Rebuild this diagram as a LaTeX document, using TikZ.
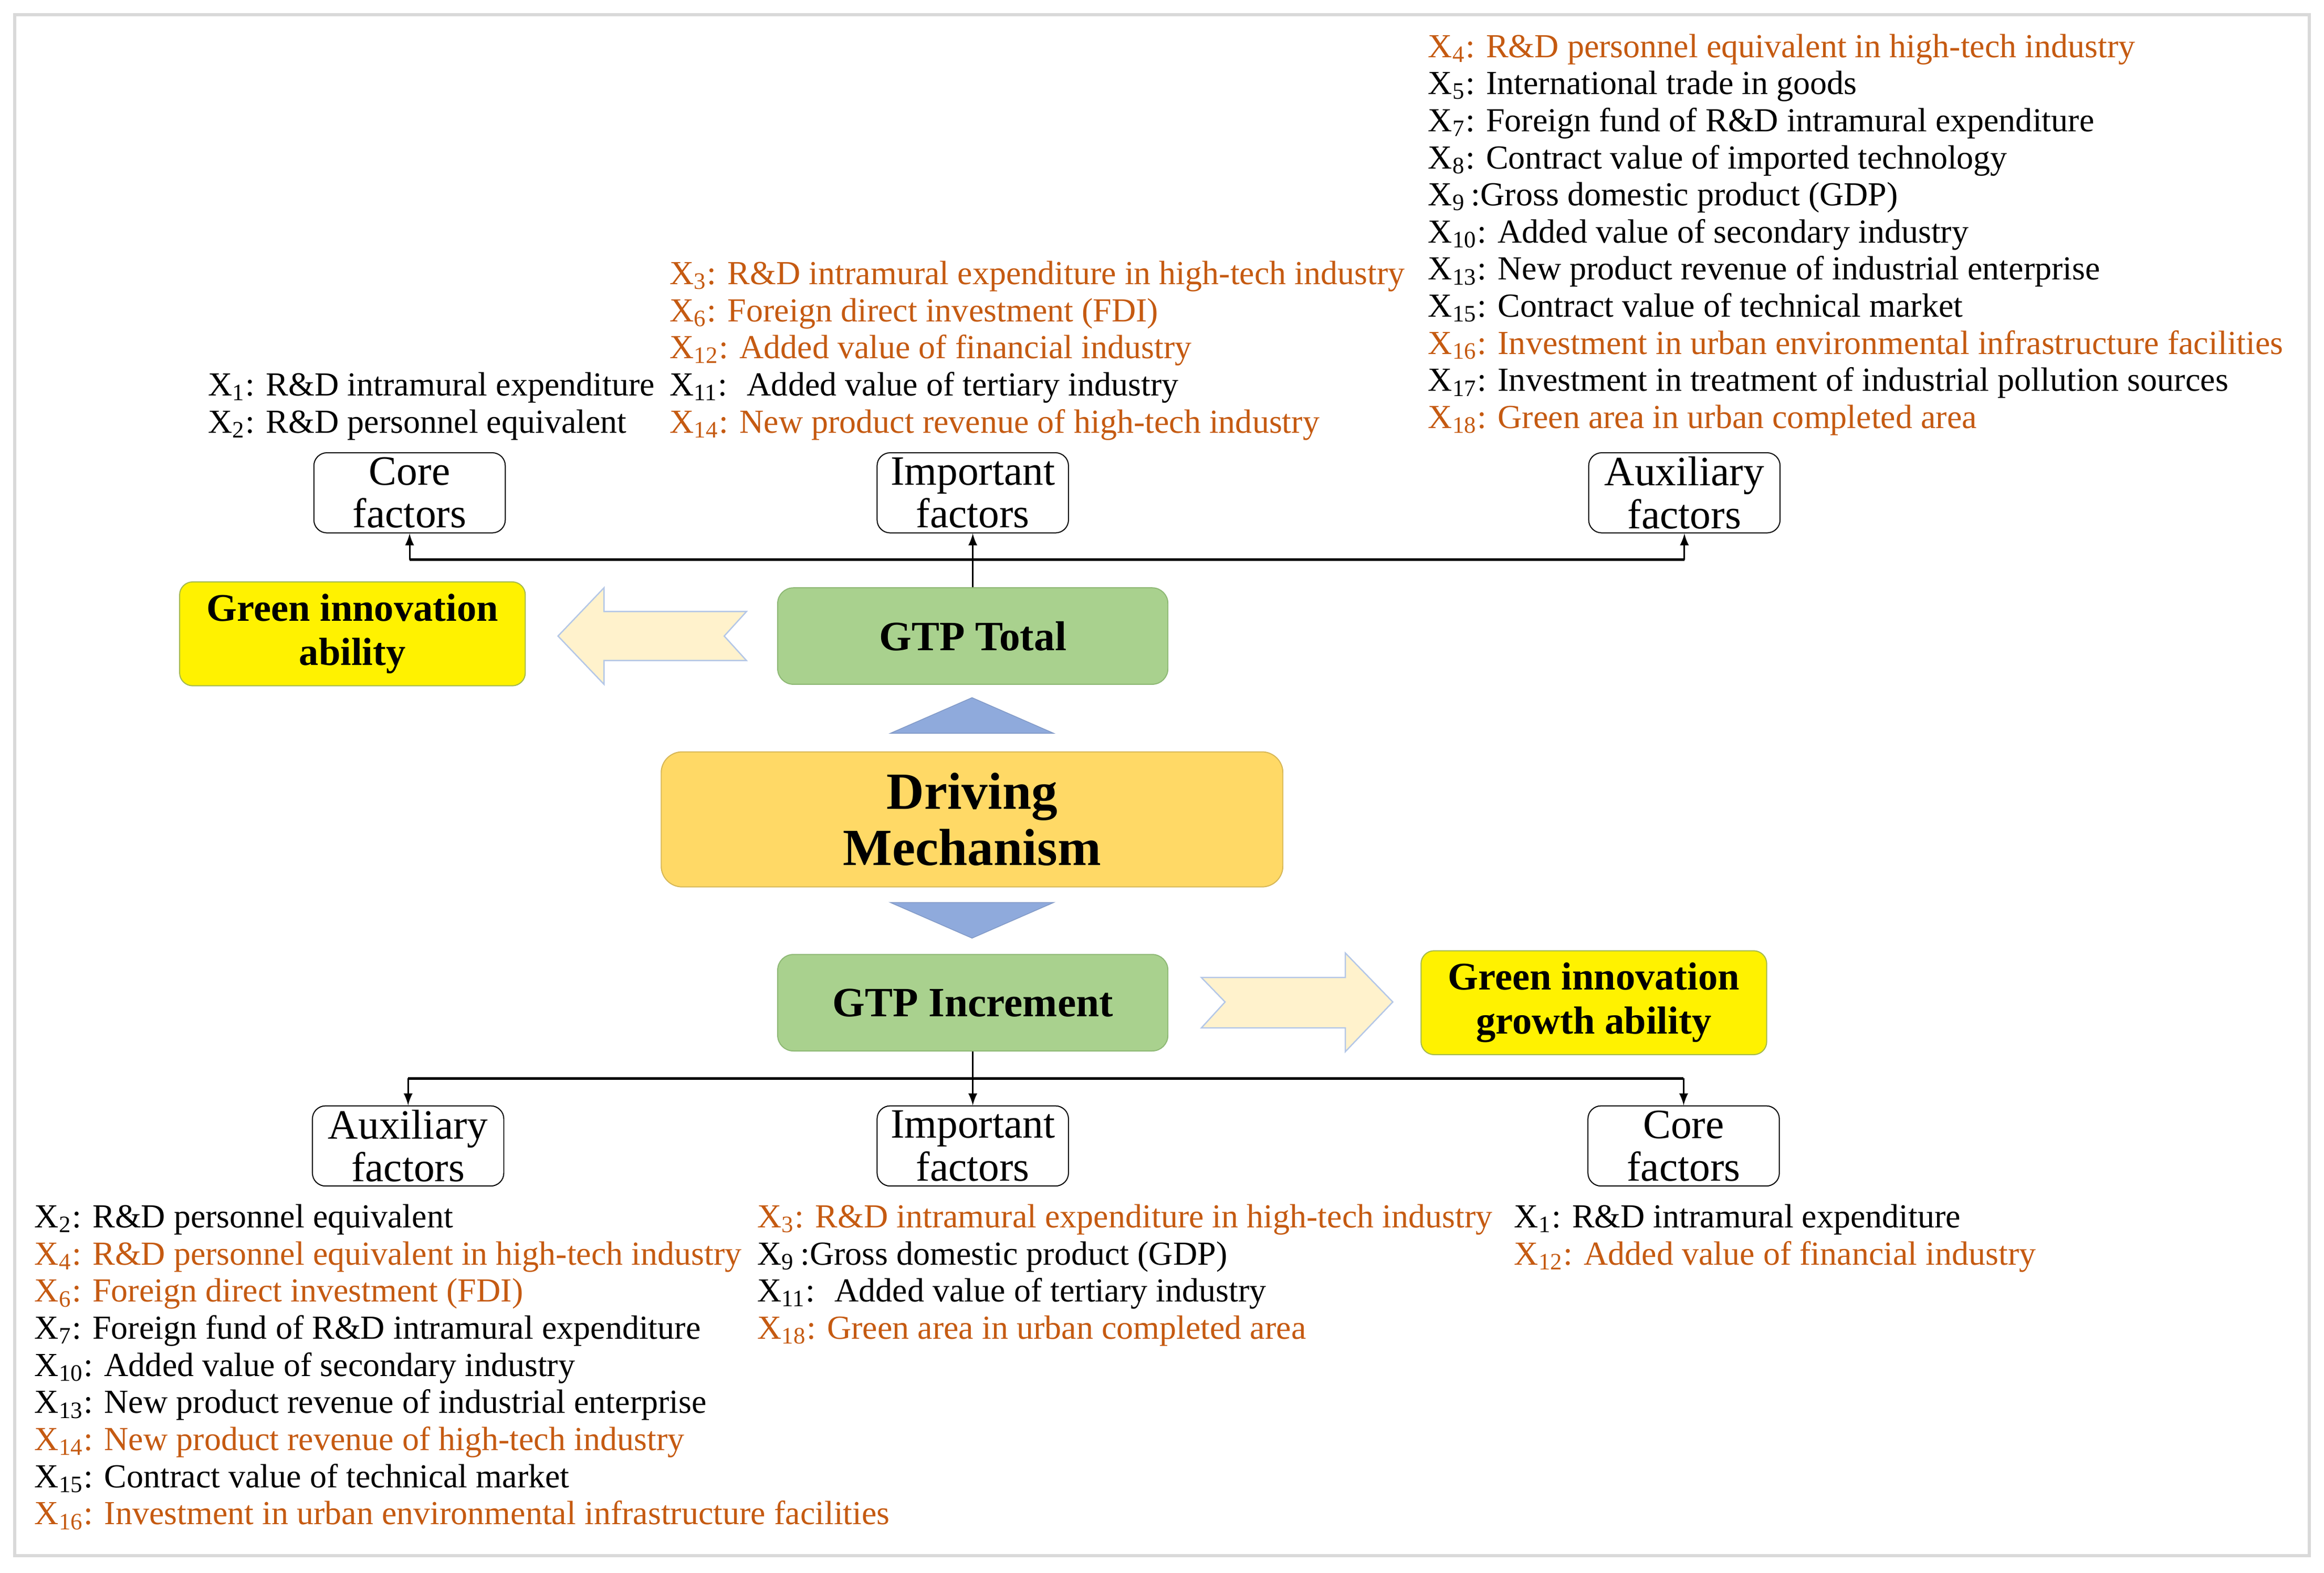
\documentclass[tikz,border=0pt]{standalone}
\usepackage{fontspec}
\setmainfont{Liberation Serif}
\usetikzlibrary{calc}

\definecolor{factororange}{HTML}{C55A11}
\definecolor{gtpgreen}{HTML}{A9D18E}
\definecolor{gtpgreenline}{HTML}{8DB874}
\definecolor{abilityline}{HTML}{A3B84E}
\definecolor{drivefill}{HTML}{FFD966}
\definecolor{driveline}{HTML}{D6B656}
\definecolor{arrowcream}{HTML}{FFF2CC}
\definecolor{arrowline}{HTML}{B4C7E7}
\definecolor{pointerblue}{HTML}{8FAADC}
\definecolor{framegray}{HTML}{D9D9D9}

\newcommand{\xv}[1]{X\textsubscript{#1}}
\newcommand{\ortx}[1]{\textcolor{factororange}{#1}}

\begin{document}
\begin{tikzpicture}[x=0.02cm, y=-0.02cm,
  factorbox/.style={draw, rounded corners=5pt, fill=white, minimum width=2.58cm, minimum height=1.08cm, align=center, inner sep=1pt, font=\fontsize{16}{16.4}\selectfont},
  gtpbox/.style={draw=gtpgreenline, fill=gtpgreen, rounded corners=6pt, minimum width=5.26cm, minimum height=1.3cm, font=\fontsize{16}{19}\selectfont\bfseries},
  abilitybox/.style={draw=abilityline, fill=yellow, rounded corners=5pt, minimum width=4.66cm, minimum height=1.4cm, align=center, font=\fontsize{15}{17}\selectfont\bfseries},
  factorlist/.style={anchor=north west, inner sep=0pt, align=left, font=\fontsize{12.9}{14.23}\selectfont},
  blockarrow/.style={fill=arrowcream, draw=arrowline, line width=0.5pt},
  pointer/.style={fill=pointerblue, draw=pointerblue!90!black, line width=0.3pt},
  link/.style={line width=0.6pt, -latex}
]
  \useasboundingbox (0,0) rectangle (1566,1059.4);
  \draw[framegray, line width=1.2pt] (10,10) rectangle (1556,1048);

  %middle column
  \node[gtpbox] (total) at (655.5,428.5) {GTP Total};
  \node[draw=driveline, fill=drivefill, rounded corners=8pt, minimum width=8.38cm, minimum height=1.82cm, align=center, font=\fontsize{20}{21.5}\selectfont\bfseries] (drive) at (655,552) {Driving\\ Mechanism};
  \node[gtpbox] (incr) at (655.5,675.5) {GTP Increment};
  \draw[pointer] (600,494) -- (655,470) -- (710,494) -- cycle;
  \draw[pointer] (600,608) -- (655,632) -- (710,608) -- cycle;

  %abilities
  \node[abilitybox] (ability) at (237.5,427) {Green innovation\\ ability};
  \node[abilitybox] (growth) at (1074,675.5) {Green innovation\\ growth ability};
  \draw[blockarrow] (376,428.5) -- (407,396) -- (407,412) -- (503,412) -- (488,428.5) -- (503,445) -- (407,445) -- (407,461) -- cycle;
  \draw[blockarrow] (938.5,675) -- (906.5,642) -- (906.5,658.5) -- (809.5,658.5) -- (825.5,675) -- (809.5,692.5) -- (906.5,692.5) -- (906.5,708.5) -- cycle;

  %factor boxes
  \node[factorbox] (topcore) at (276,332) {Core\\ factors};
  \node[factorbox] (topimp) at (655.5,332) {Important\\ factors};
  \node[factorbox] (topaux) at (1135,332) {Auxiliary\\ factors};
  \node[factorbox] (botaux) at (275,772) {Auxiliary\\ factors};
  \node[factorbox] (botimp) at (655.5,772) {Important\\ factors};
  \node[factorbox] (botcore) at (1134.5,772) {Core\\ factors};

  \coordinate (tbus) at (655.5,377);
  \coordinate (bbus) at (655.5,726.5);
  \draw[link] (total.north) -- (topimp.south);
  \draw[line width=1pt] (topcore.south |- tbus) -- (topaux.south |- tbus);
  \draw[link] (topcore.south |- tbus) -- (topcore.south);
  \draw[link] (topaux.south |- tbus) -- (topaux.south);
  \draw[link] (incr.south) -- (botimp.north);
  \draw[line width=1pt] (botaux.north |- bbus) -- (botcore.north |- bbus);
  \draw[link] (botaux.north |- bbus) -- (botaux.north);
  \draw[link] (botcore.north |- bbus) -- (botcore.north);

  %factor lists
  \node[factorlist] (topcorelist) at (140,250.5) {\xv{1}: R\&D intramural expenditure\\ \xv{2}: R\&D personnel equivalent};
  \node[factorlist] (topimplist) at (451,175.5) {\ortx{\xv{3}: R\&D intramural expenditure in high-tech industry}\\
    \ortx{\xv{6}: Foreign direct investment (FDI)}\\
    \ortx{\xv{12}: Added value of financial industry}\\
    \xv{11}:~ Added value of tertiary industry\\
    \ortx{\xv{14}: New product revenue of high-tech industry}};
  \node[factorlist] (topauxlist) at (962,22.5) {\ortx{\xv{4}: R\&D personnel equivalent in high-tech industry}\\
    \xv{5}: International trade in goods\\
    \xv{7}: Foreign fund of R\&D intramural expenditure\\
    \xv{8}: Contract value of imported technology\\
    \xv{9}\,:Gross domestic product (GDP)\\
    \xv{10}: Added value of secondary industry\\
    \xv{13}: New product revenue of industrial enterprise\\
    \xv{15}: Contract value of technical market\\
    \ortx{\xv{16}: Investment in urban environmental infrastructure facilities}\\
    \xv{17}: Investment in treatment of industrial pollution sources\\
    \ortx{\xv{18}: Green area in urban completed area}};
  \node[factorlist] (botauxlist) at (23,811) {\xv{2}: R\&D personnel equivalent\\
    \ortx{\xv{4}: R\&D personnel equivalent in high-tech industry}\\
    \ortx{\xv{6}: Foreign direct investment (FDI)}\\
    \xv{7}: Foreign fund of R\&D intramural expenditure\\
    \xv{10}: Added value of secondary industry\\
    \xv{13}: New product revenue of industrial enterprise\\
    \ortx{\xv{14}: New product revenue of high-tech industry}\\
    \xv{15}: Contract value of technical market\\
    \ortx{\xv{16}: Investment in urban environmental infrastructure facilities}};
  \node[factorlist] (botimplist) at (510,811) {\ortx{\xv{3}: R\&D intramural expenditure in high-tech industry}\\
    \xv{9}\,:Gross domestic product (GDP)\\
    \xv{11}:~ Added value of tertiary industry\\
    \ortx{\xv{18}: Green area in urban completed area}};
  \node[factorlist] (botcorelist) at (1020,811) {\xv{1}: R\&D intramural expenditure\\
    \ortx{\xv{12}: Added value of financial industry}};
\end{tikzpicture}
\end{document}
